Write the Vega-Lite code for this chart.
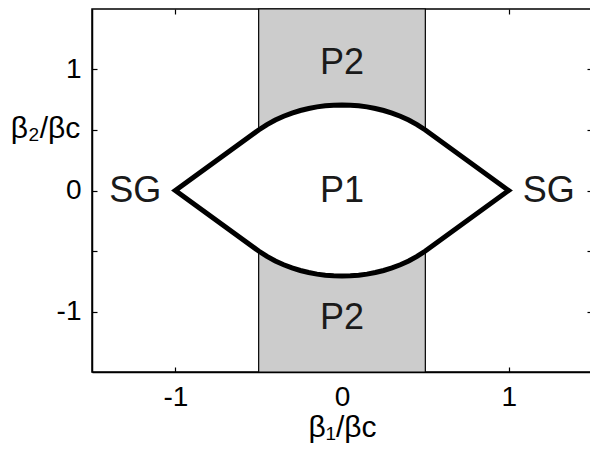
{
  "$schema": "https://vega.github.io/schema/vega-lite/v6.json",
  "width": 500,
  "height": 363,
  "autosize": {"type": "none"},
  "padding": {"left": 92, "top": 9, "right": 0, "bottom": 77},
  "background": "white",
  "config": {
    "view": {"stroke": "black", "strokeWidth": 1.5},
    "font": "Liberation Sans",
    "axis": {
      "grid": false,
      "domainColor": "black",
      "domainWidth": 1.5,
      "tickColor": "black",
      "tickWidth": 1.2,
      "labelFont": "Liberation Sans",
      "labelFontSize": 28,
      "labelColor": "black",
      "labelFontWeight": "normal",
      "titleFont": "Liberation Sans",
      "titleFontSize": 30,
      "titleFontWeight": "normal",
      "titleColor": "black"
    }
  },
  "datasets": {
    "band": [{"x1": -0.5, "x2": 0.5}],
    "lens": [
      {"b1": -1, "up": 0, "lo": 0},
      {"b1": -0.5, "up": 0.5, "lo": -0.5},
      {"b1": -0.45, "up": 0.545, "lo": -0.545},
      {"b1": -0.4, "up": 0.583, "lo": -0.583},
      {"b1": -0.35, "up": 0.614, "lo": -0.614},
      {"b1": -0.3, "up": 0.64, "lo": -0.64},
      {"b1": -0.25, "up": 0.661, "lo": -0.661},
      {"b1": -0.2, "up": 0.678, "lo": -0.678},
      {"b1": -0.15, "up": 0.691, "lo": -0.691},
      {"b1": -0.1, "up": 0.7, "lo": -0.7},
      {"b1": -0.05, "up": 0.705, "lo": -0.705},
      {"b1": 0, "up": 0.707, "lo": -0.707},
      {"b1": 0.05, "up": 0.705, "lo": -0.705},
      {"b1": 0.1, "up": 0.7, "lo": -0.7},
      {"b1": 0.15, "up": 0.691, "lo": -0.691},
      {"b1": 0.2, "up": 0.678, "lo": -0.678},
      {"b1": 0.25, "up": 0.661, "lo": -0.661},
      {"b1": 0.3, "up": 0.64, "lo": -0.64},
      {"b1": 0.35, "up": 0.614, "lo": -0.614},
      {"b1": 0.4, "up": 0.583, "lo": -0.583},
      {"b1": 0.45, "up": 0.545, "lo": -0.545},
      {"b1": 0.5, "up": 0.5, "lo": -0.5},
      {"b1": 1, "up": 0, "lo": 0}
    ],
    "loop": [
      {"i": 0, "b1": -1, "b2": 0},
      {"i": 1, "b1": -0.5, "b2": 0.5},
      {"i": 2, "b1": -0.45, "b2": 0.545},
      {"i": 3, "b1": -0.4, "b2": 0.583},
      {"i": 4, "b1": -0.35, "b2": 0.614},
      {"i": 5, "b1": -0.3, "b2": 0.64},
      {"i": 6, "b1": -0.25, "b2": 0.661},
      {"i": 7, "b1": -0.2, "b2": 0.678},
      {"i": 8, "b1": -0.15, "b2": 0.691},
      {"i": 9, "b1": -0.1, "b2": 0.7},
      {"i": 10, "b1": -0.05, "b2": 0.705},
      {"i": 11, "b1": 0, "b2": 0.707},
      {"i": 12, "b1": 0.05, "b2": 0.705},
      {"i": 13, "b1": 0.1, "b2": 0.7},
      {"i": 14, "b1": 0.15, "b2": 0.691},
      {"i": 15, "b1": 0.2, "b2": 0.678},
      {"i": 16, "b1": 0.25, "b2": 0.661},
      {"i": 17, "b1": 0.3, "b2": 0.64},
      {"i": 18, "b1": 0.35, "b2": 0.614},
      {"i": 19, "b1": 0.4, "b2": 0.583},
      {"i": 20, "b1": 0.45, "b2": 0.545},
      {"i": 21, "b1": 0.5, "b2": 0.5},
      {"i": 22, "b1": 1, "b2": 0},
      {"i": 23, "b1": 0.5, "b2": -0.5},
      {"i": 24, "b1": 0.45, "b2": -0.545},
      {"i": 25, "b1": 0.4, "b2": -0.583},
      {"i": 26, "b1": 0.35, "b2": -0.614},
      {"i": 27, "b1": 0.3, "b2": -0.64},
      {"i": 28, "b1": 0.25, "b2": -0.661},
      {"i": 29, "b1": 0.2, "b2": -0.678},
      {"i": 30, "b1": 0.15, "b2": -0.691},
      {"i": 31, "b1": 0.1, "b2": -0.7},
      {"i": 32, "b1": 0.05, "b2": -0.705},
      {"i": 33, "b1": 0, "b2": -0.707},
      {"i": 34, "b1": -0.05, "b2": -0.705},
      {"i": 35, "b1": -0.1, "b2": -0.7},
      {"i": 36, "b1": -0.15, "b2": -0.691},
      {"i": 37, "b1": -0.2, "b2": -0.678},
      {"i": 38, "b1": -0.25, "b2": -0.661},
      {"i": 39, "b1": -0.3, "b2": -0.64},
      {"i": 40, "b1": -0.35, "b2": -0.614},
      {"i": 41, "b1": -0.4, "b2": -0.583},
      {"i": 42, "b1": -0.45, "b2": -0.545},
      {"i": 43, "b1": -0.5, "b2": -0.5},
      {"i": 44, "b1": -1, "b2": 0},
      {"i": 45, "b1": -0.5, "b2": 0.5}
    ],
    "labels": [
      {"b1": 0, "b2": 1.05, "t": "P2"},
      {"b1": 0, "b2": -1.05, "t": "P2"},
      {"b1": 0, "b2": 0, "t": "P1"},
      {"b1": -1.24, "b2": 0, "t": "SG"},
      {"b1": 1.24, "b2": 0, "t": "SG"}
    ]
  },
  "resolve": {
    "scale": {"x": "shared", "y": "shared"},
    "axis": {"x": "independent", "y": "independent"}
  },
  "layer": [
    {
      "data": {"name": "band"},
      "mark": {"type": "rect", "fill": "#cccccc", "stroke": "black", "strokeWidth": 1.2},
      "encoding": {
        "x": {
          "field": "x1", "type": "quantitative",
          "scale": {"domain": [-1.5, 1.5], "nice": false, "zero": false},
          "axis": {
            "orient": "bottom", "values": [-1, 0, 1], "ticks": false,
            "labelPadding": 11,
            "labelExpr": "datum.value < 0 ? '-' + abs(datum.value) : '' + datum.value",
            "title": "β₁/βc",
            "titleX": 250, "titleY": 55, "titleAlign": "center", "titleBaseline": "middle"
          }
        },
        "x2": {"field": "x2"},
        "y": {
          "datum": -1.5, "type": "quantitative",
          "scale": {"domain": [-1.5, 1.5], "nice": false, "zero": false},
          "axis": {
            "orient": "left", "values": [-1, 0, 1], "ticks": false,
            "labelPadding": 11,
            "labelExpr": "datum.value < 0 ? '-' + abs(datum.value) : '' + datum.value",
            "title": "β₂/βc", "titleAngle": 0,
            "titleX": -47, "titleY": 119, "titleAlign": "center", "titleBaseline": "middle"
          }
        },
        "y2": {"datum": 1.5}
      }
    },
    {
      "data": {"name": "lens"},
      "mark": {"type": "area", "fill": "white", "opacity": 1},
      "encoding": {
        "x": {
          "field": "b1", "type": "quantitative",
          "axis": {"orient": "top", "values": [-1, 0, 1], "offset": -5, "tickSize": 5, "domain": false, "labels": false, "title": null}
        },
        "y": {
          "field": "up", "type": "quantitative",
          "axis": {"orient": "right", "values": [-1, -0.5, 0, 0.5, 1], "offset": -5, "tickSize": 5, "domain": false, "labels": false, "title": null}
        },
        "y2": {"field": "lo"}
      }
    },
    {
      "mark": {"type": "rule", "color": "#808080", "strokeWidth": 1},
      "encoding": {
        "x": {
          "datum": 0, "type": "quantitative",
          "axis": {"orient": "bottom", "values": [-1, 0, 1], "offset": -5, "tickSize": 5, "domain": false, "labels": false, "title": null}
        }
      }
    },
    {
      "mark": {"type": "rule", "color": "#808080", "strokeWidth": 1},
      "encoding": {
        "y": {
          "datum": 0, "type": "quantitative",
          "axis": {"orient": "left", "values": [-1, -0.5, 0, 0.5, 1], "offset": -5, "tickSize": 5, "domain": false, "labels": false, "title": null}
        }
      }
    },
    {
      "data": {"name": "loop"},
      "mark": {"type": "line", "color": "black", "strokeWidth": 5, "strokeJoin": "miter", "strokeMiterLimit": 10},
      "encoding": {
        "x": {"field": "b1", "type": "quantitative", "axis": null},
        "y": {"field": "b2", "type": "quantitative", "axis": null},
        "order": {"field": "i", "type": "quantitative"}
      }
    },
    {
      "data": {"name": "labels"},
      "mark": {"type": "text", "font": "Liberation Sans", "fontSize": 36, "color": "#1a1a1a", "align": "center", "baseline": "middle"},
      "encoding": {
        "x": {"field": "b1", "type": "quantitative", "axis": null},
        "y": {"field": "b2", "type": "quantitative", "axis": null},
        "text": {"field": "t"}
      }
    }
  ]
}
